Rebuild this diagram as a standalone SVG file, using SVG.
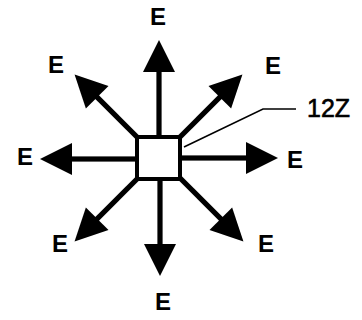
<svg xmlns="http://www.w3.org/2000/svg" xmlns:xlink="http://www.w3.org/1999/xlink" width="362" height="320" viewBox="0 0 362 320">
  <style>
    .lbl { font-family: "Liberation Sans", Arial, sans-serif; font-weight: bold; font-size: 24px; fill: #000; text-anchor: middle; }
    .ref { font-family: "Liberation Sans", Arial, sans-serif; font-size: 25px; fill: #000; stroke: #000; stroke-width: 0.6; }
    .box { fill: #fff; stroke: #000; stroke-width: 4; }
    .leader { fill: none; stroke: #000; stroke-width: 1.6; }
  </style>
  <defs>
    <!-- one outward arrow from the hub centre, pointing up -->
    <g id="ray">
      <rect x="-2.6" y="-90" width="5.2" height="90" fill="#000"/>
      <polygon points="0,-118 -16,-86 16,-86" fill="#000"/>
    </g>
  </defs>
  <rect width="362" height="320" fill="#fff"/>

  <g id="connectors">
    <use xlink:href="#ray" transform="translate(159,158) rotate(0)"/>
    <use xlink:href="#ray" transform="translate(159,158) rotate(45)"/>
    <use xlink:href="#ray" transform="translate(160,158) rotate(90)"/>
    <use xlink:href="#ray" transform="translate(160,158) rotate(135)"/>
    <use xlink:href="#ray" transform="translate(160,158) rotate(180)"/>
    <use xlink:href="#ray" transform="translate(158,158) rotate(225)"/>
    <use xlink:href="#ray" transform="translate(158,159) rotate(270)"/>
    <use xlink:href="#ray" transform="translate(158,158) rotate(315)"/>
    <polyline class="leader" points="184,147 263,109 296,109"/>
  </g>

  <g id="hub-12Z">
    <rect class="box" x="137" y="137" width="43" height="42"/>
    <text class="ref" x="307" y="117">12Z</text>
  </g>

  <g id="e-n"><text class="lbl" x="158" y="25">E</text></g>
  <g id="e-ne"><text class="lbl" x="273" y="74">E</text></g>
  <g id="e-e"><text class="lbl" x="295" y="168">E</text></g>
  <g id="e-se"><text class="lbl" x="266" y="252">E</text></g>
  <g id="e-s"><text class="lbl" x="163" y="310">E</text></g>
  <g id="e-sw"><text class="lbl" x="60" y="252">E</text></g>
  <g id="e-w"><text class="lbl" x="25" y="165">E</text></g>
  <g id="e-nw"><text class="lbl" x="56" y="73">E</text></g>
</svg>
